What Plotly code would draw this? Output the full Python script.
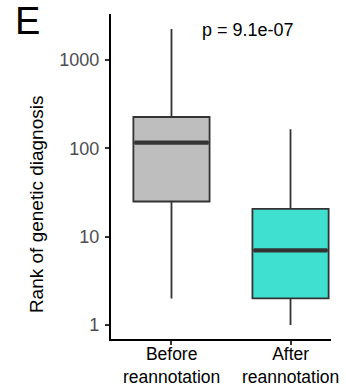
import plotly.graph_objects as go

groups = ["Before<br>reannotation", "After<br>reannotation"]
xpos = [0, 1]
lower = [2, 1]
q1 = [25, 2]
median = [116, 7]
q3 = [226, 20.6]
upper = [2245, 164]
fills = ["#BEBEBE", "#40E0D0"]

box_w = 0.64
line_col = "#333333"

fig = go.Figure()
for i in range(2):
    fig.add_trace(go.Box(
        x=[xpos[i]], q1=[q1[i]], median=[median[i]], q3=[q3[i]],
        lowerfence=[lower[i]], upperfence=[upper[i]],
        width=box_w, fillcolor=fills[i], whiskerwidth=0,
        line=dict(color=line_col, width=1.8),
        boxpoints=False, hoverinfo="skip", showlegend=False,
    ))
    fig.add_trace(go.Scatter(
        x=[xpos[i] - box_w / 2 + 0.01, xpos[i] + box_w / 2 - 0.01],
        y=[median[i], median[i]], mode="lines",
        line=dict(color=line_col, width=4.3), showlegend=False, hoverinfo="skip",
    ))

font = "Liberation Sans, Arial, sans-serif"
annotations = [
    dict(text="E", x=-0.378, y=0.977, xref="paper", yref="paper",
         xanchor="center", yanchor="middle", showarrow=False,
         font=dict(size=38, color="black")),
    dict(text="p = 9.1e-07", x=0.623, y=0.951, xref="paper", yref="paper",
         xanchor="center", yanchor="middle", showarrow=False,
         font=dict(size=18, color="black")),
    dict(text="Rank of genetic diagnosis", x=-0.341, y=0.415, xref="paper", yref="paper",
         xanchor="center", yanchor="middle", textangle=-90, showarrow=False,
         font=dict(size=19, color="black")),
]
for xv, lab in zip(xpos, groups):
    annotations.append(dict(text=lab, x=xv, y=-0.008, xref="x", yref="paper",
                            xanchor="center", yanchor="top", showarrow=False,
                            font=dict(size=17.5, color="black")))

fig.update_layout(
    width=346, height=387,
    margin=dict(l=111, r=15, t=14, b=48),
    paper_bgcolor="white", plot_bgcolor="white",
    font=dict(family=font, size=18, color="black"),
    xaxis=dict(
        range=[-0.508, 1.34], tickmode="array", tickvals=xpos, showticklabels=False,
        showgrid=False, zeroline=False, showline=True, linecolor="black", linewidth=2.2,
        ticks="outside", ticklen=4, tickwidth=1.5, tickcolor=line_col, automargin=False,
    ),
    yaxis=dict(
        type="log", range=[-0.158, 3.52], tickmode="array",
        tickvals=[1, 10, 100, 1000], ticktext=["1", "10", "100", "1000"],
        showgrid=False, zeroline=False, showline=True, linecolor="black", linewidth=2.2,
        ticks="outside", ticklen=4, tickwidth=1.5, tickcolor=line_col,
        tickfont=dict(size=18, color="#4D4D4D"), ticklabelstandoff=2, automargin=False,
    ),
    annotations=annotations,
)

fig.write_html("out.html")
